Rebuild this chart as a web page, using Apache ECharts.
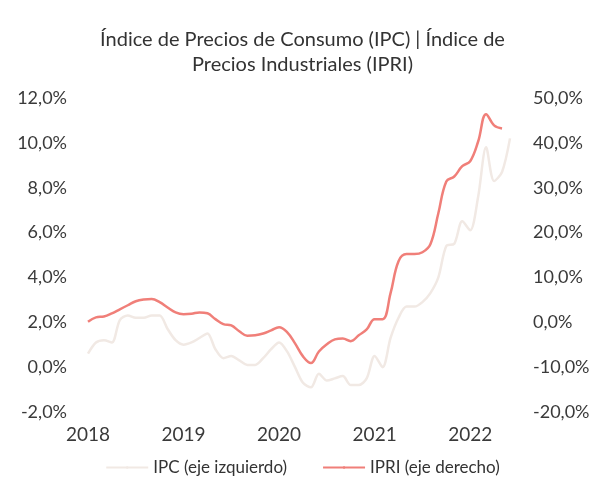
<!DOCTYPE html>
<html>
<head>
<meta charset="utf-8">
<script src="https://cdn.jsdelivr.net/npm/echarts@6/dist/echarts.min.js"></script>
<style>
  html, body { margin: 0; padding: 0; background: #fff; }
  #chart { width: 605px; height: 490px; }
</style>
</head>
<body>
<div id="chart"></div>
<script>
// monthly data, Jan 2018 .. Jun 2022
const years = ['2018', '2019', '2020', '2021', '2022'];
const months = ['01', '02', '03', '04', '05', '06', '07', '08', '09', '10', '11', '12'];

const ipc = [
    0.6, 1.1, 1.2, 1.1, 2.1, 2.3, 2.2, 2.2, 2.3, 2.3, 1.7, 1.2,
    1.0, 1.1, 1.3, 1.5, 0.8, 0.4, 0.5, 0.3, 0.1, 0.1, 0.4, 0.8,
    1.1, 0.7, 0.0, -0.7, -0.9, -0.3, -0.6, -0.5, -0.4, -0.8, -0.8, -0.5,
    0.5, 0.0, 1.3, 2.2, 2.7, 2.7, 2.9, 3.3, 4.0, 5.4, 5.5, 6.5,
    6.1, 7.6, 9.8, 8.3, 8.7, 10.2,
];

const ipri = [
    0.1, 1.1, 1.3, 2.0, 2.9, 3.8, 4.7, 5.1, 5.2, 4.5, 3.3, 2.2,
    1.8, 1.9, 2.2, 2.0, 0.7, -0.4, -0.7, -2.0, -3.0, -2.9, -2.5, -1.8,
    -1.1, -2.2, -4.7, -7.6, -9.1, -6.5, -4.9, -3.8, -3.6, -4.2, -2.9, -1.6,
    0.7, 0.7, 6.5, 13.6, 15.2, 15.2, 15.6, 17.4, 24.3, 31.4, 32.5, 34.8,
    35.9, 40.3, 46.4, 43.9, 43.2,
];

const categories = [];
years.forEach((y) => months.forEach((m) => categories.push(y + '-' + m)));
categories.length = ipc.length;

const fmt = (v) => v.toFixed(1).replace('.', ',') + '%';
const font = 'Lato, "Open Sans", sans-serif';
const labelStyle = { color: '#3a3a3a', fontSize: 18, fontFamily: font };

const chart = echarts.init(document.getElementById('chart'), null, { renderer: 'canvas' });

chart.setOption({
    backgroundColor: '#fff',
    animation: false,
    title: {
        text: 'Índice de Precios de Consumo (IPC) | Índice de\nPrecios Industriales (IPRI)',
        left: 'center',
        top: 22,
        textStyle: {
            color: '#333',
            fontSize: 20,
            fontWeight: 'normal',
            fontFamily: font,
            lineHeight: 25,
        },
    },
    legend: {
        bottom: 9,
        left: 'center',
        itemWidth: 42,
        itemHeight: 3,
        itemGap: 35,
        textStyle: { color: '#333', fontSize: 17, fontFamily: font },
        data: ['IPC (eje izquierdo)', 'IPRI (eje derecho)'],
    },
    grid: { left: 88, right: 95, top: 98, bottom: 78 },
    xAxis: {
        type: 'category',
        data: categories,
        boundaryGap: false,
        axisLine: { show: false },
        axisTick: { show: false },
        axisLabel: {
            ...labelStyle,
            fontSize: 19,
            margin: 13,
            interval: (index) => index % 12 === 0,
            formatter: (val) => val.slice(0, 4),
        },
    },
    yAxis: [
        {
            type: 'value',
            min: -2,
            max: 12,
            interval: 2,
            splitLine: { show: false },
            axisLine: { show: false },
            axisLabel: { ...labelStyle, margin: 21, formatter: fmt },
        },
        {
            type: 'value',
            min: -20,
            max: 50,
            interval: 10,
            splitLine: { show: false },
            axisLine: { show: false },
            axisLabel: { ...labelStyle, margin: 23, formatter: fmt },
        },
    ],
    series: [
        {
            name: 'IPC (eje izquierdo)',
            type: 'line',
            yAxisIndex: 0,
            data: ipc,
            smooth: 0.3,
            symbol: 'none',
            lineStyle: { color: '#f1e9e4', width: 2.5 },
            itemStyle: { color: '#f1e9e4' },
        },
        {
            name: 'IPRI (eje derecho)',
            type: 'line',
            yAxisIndex: 1,
            data: ipri,
            smooth: 0.4,
            symbol: 'none',
            lineStyle: { color: '#f07f79', width: 2.5 },
            itemStyle: { color: '#f07f79' },
        },
    ],
});
</script>
</body>
</html>
